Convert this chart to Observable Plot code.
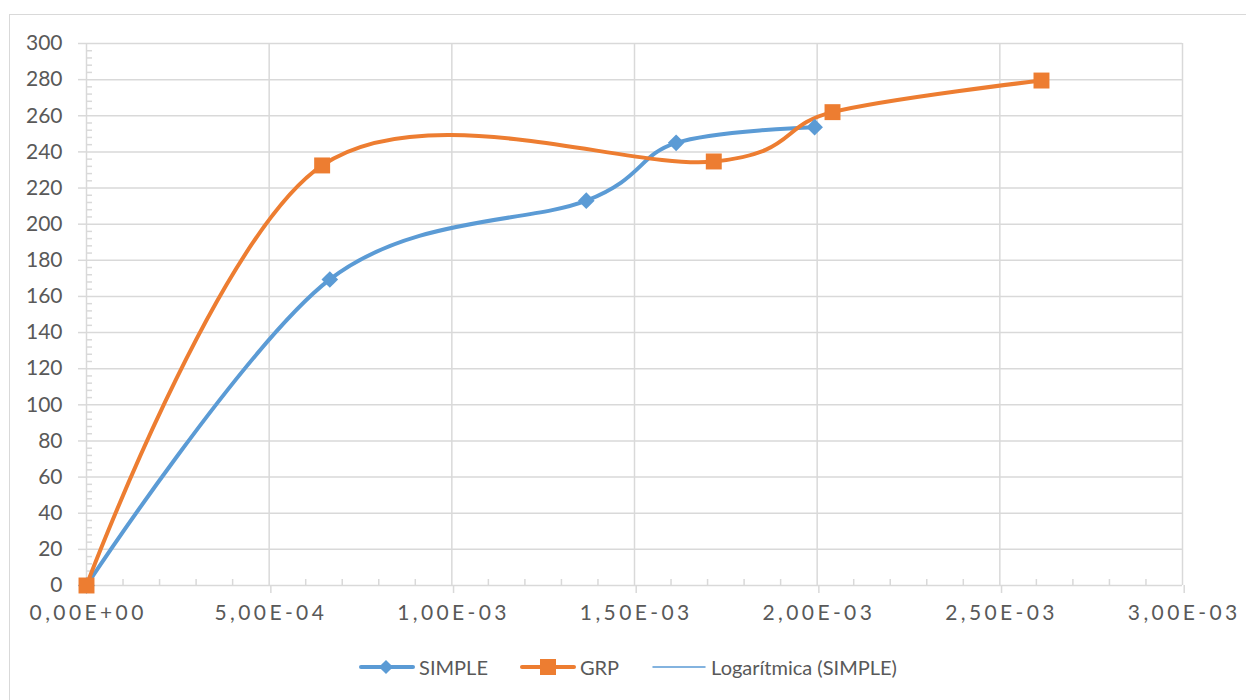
<!DOCTYPE html>
<html>
<head>
<meta charset="utf-8">
<script src="https://cdn.jsdelivr.net/npm/d3@7"></script>
<script src="https://cdn.jsdelivr.net/npm/@observablehq/plot@0.6"></script>
<style>
  html, body { margin: 0; padding: 0; background: #fff; width: 1246px; height: 700px; overflow: hidden; }
  #frame { position: absolute; left: 9px; top: 14px; width: 1300px; height: 760px; border: 1px solid #d9d9d9; box-sizing: border-box; }
  #chart { position: absolute; left: 0; top: 0; }
  #legend { position: absolute; left: 0; top: 655px; width: 1246px; display: flex; justify-content: center; align-items: center;
            font-family: Lato, sans-serif; font-size: 20px; color: #595959; padding-left: 10px; box-sizing: border-box; }
  .item { display: flex; align-items: center; margin: 0 16px; }
  .item svg { margin-right: 4px; }
  g[aria-label="x-axis tick label"] text { letter-spacing: 3.4px; }
</style>
</head>
<body>
<div id="frame"></div>
<div id="chart"></div>
<div id="legend"></div>
<script>
// ---- data ----
const simpleX = [0, 0.000666, 0.001368, 0.001614, 0.001993];
const simpleY = [0, 169.4, 213, 245, 253.7];
const grpX = [0, 0.000645, 0.001717, 0.002042, 0.002614];
const grpY = [0, 232.5, 234.7, 262, 279.5];
const seriesNames = ["SIMPLE", "GRP", "Logarítmica (SIMPLE)"];
const xTicks = [0, 0.0005, 0.001, 0.0015, 0.002, 0.0025, 0.003];
const xTickLabels = ["0,00E+00", "5,00E-04", "1,00E-03", "1,50E-03", "2,00E-03", "2,50E-03", "3,00E-03"];
const yTicks = [0, 20, 40, 60, 80, 100, 120, 140, 160, 180, 200, 220, 240, 260, 280, 300];

const blue = "#5b9bd5", orange = "#ed7d31", gridC = "#d9d9d9", textC = "#595959";
const simple = simpleX.map((x, i) => ({x, y: simpleY[i]}));
const grp = grpX.map((x, i) => ({x, y: grpY[i]}));
const xLabel = new Map(xTicks.map((t, i) => [t, xTickLabels[i]]));
const xMinor = d3.range(0, 31).filter(i => i % 5 !== 0).map(i => i * 1e-4);
const yMinor = d3.range(0, 301, 4).filter(v => v % 20 !== 0);
const smooth = d3.curveCardinal.tension(0);

const W = 1246, H = 630, mL = 86, mR = 64, mT = 43, mB = 45;
const plotW = W - mL - mR, plotH = H - mT - mB;

const chart = Plot.plot({
  width: W, height: H,
  marginLeft: mL, marginRight: mR, marginTop: mT, marginBottom: mB,
  x: {domain: [0, 0.003], axis: null},
  y: {domain: [0, 300], axis: null},
  style: {fontFamily: "Lato, sans-serif", fontSize: "21px", color: textC, background: "transparent"},
  marks: [
    Plot.gridX(xTicks, {stroke: gridC, strokeOpacity: 1, strokeWidth: 1.5}),
    Plot.gridY(yTicks, {stroke: gridC, strokeOpacity: 1, strokeWidth: 1.5}),
    Plot.tickX(xMinor, {stroke: gridC, strokeWidth: 1.5, insetTop: plotH - 6}),
    Plot.tickY(yMinor, {stroke: gridC, strokeWidth: 1.5, insetRight: plotW - 6}),
    Plot.axisX(xTicks, {anchor: "bottom", tickSize: 8, tickPadding: 12, dx: 1.7, tickFormat: d => xLabel.get(d),
      stroke: gridC, strokeWidth: 1.5, strokeOpacity: 1, fill: textC, fontSize: 21, label: null}),
    Plot.axisY(yTicks, {anchor: "left", tickSize: 8, tickPadding: 16, tickFormat: d => String(d),
      stroke: gridC, strokeWidth: 1.5, strokeOpacity: 1, fill: textC, fontSize: 21, label: null}),
    Plot.line(simple, {x: "x", y: "y", stroke: blue, strokeWidth: 4, curve: smooth}),
    Plot.line(grp, {x: "x", y: "y", stroke: orange, strokeWidth: 4, curve: smooth}),
    Plot.dot(simple, {x: "x", y: "y", symbol: "diamond2", r: 7.5, fill: blue, stroke: "none"}),
    Plot.dot(grp, {x: "x", y: "y", symbol: "square", r: 9, fill: orange, stroke: "none"})
  ]
});
document.getElementById("chart").appendChild(chart);

// legend
const legend = document.getElementById("legend");
const items = [
  {name: seriesNames[0], color: blue, marker: "diamond", w: 4},
  {name: seriesNames[1], color: orange, marker: "square", w: 4},
  {name: seriesNames[2], color: blue, marker: null, w: 1.5}
];
for (const it of items) {
  const div = document.createElement("div");
  div.className = "item";
  let m = "";
  if (it.marker === "diamond") m = `<rect x="22" y="4" width="10" height="10" transform="rotate(45 27 9)" fill="${it.color}"/>`;
  if (it.marker === "square") m = `<rect x="20" y="1" width="16" height="16" fill="${it.color}"/>`;
  div.innerHTML = `<svg width="56" height="18"><line x1="2" x2="54" y1="9" y2="9" stroke="${it.color}" stroke-width="${it.w}" stroke-linecap="round"/>${m}</svg><span>${it.name}</span>`;
  legend.appendChild(div);
}
</script>
</body>
</html>
